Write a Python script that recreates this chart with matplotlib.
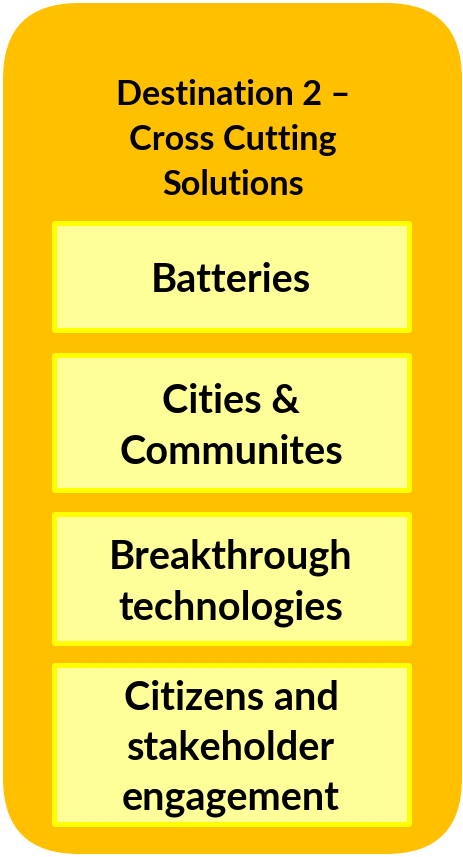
import matplotlib.pyplot as plt
from matplotlib.patches import FancyBboxPatch

plt.rcParams['font.family'] = ['Lato', 'DejaVu Sans']

title = "Destination 2 –\nCross Cutting\nSolutions"
topics = [
    "Batteries",
    "Cities &\nCommunites",
    "Breakthrough\ntechnologies",
    "Citizens and\nstakeholder\nengagement",
]

# layout in pixels (top, bottom) of each inner box
box_rows = [(221, 333), (353, 493), (512, 646), (663, 827)]

W, H = 464, 857
fig = plt.figure(figsize=(W / 100, H / 100), dpi=100)
ax = fig.add_axes([0, 0, 1, 1])
ax.set_xlim(0, W)
ax.set_ylim(H, 0)
ax.axis('off')

outer = FancyBboxPatch((3, 3), 459, 851,
                       boxstyle="round,pad=0,rounding_size=76",
                       facecolor='#FFC000', edgecolor='none')
ax.add_patch(outer)

ax.text(233, 140, title, ha='center', va='center', fontsize=24.7,
        fontweight='bold', linespacing=1.5, color='black')

for label, (top, bot) in zip(topics, box_rows):
    box = FancyBboxPatch((54.5, top + 2.5), 355, bot - top - 5,
                         boxstyle="round,pad=0,rounding_size=1",
                         facecolor='#FFFF99', edgecolor='#FFFF00',
                         linewidth=3.6)
    ax.add_patch(box)
    ax.text(231, (top + bot) / 2 + 4, label, ha='center', va='center',
            fontsize=28.5, fontweight='bold', linespacing=1.45, color='black')

fig.savefig('out.png', dpi=100)
